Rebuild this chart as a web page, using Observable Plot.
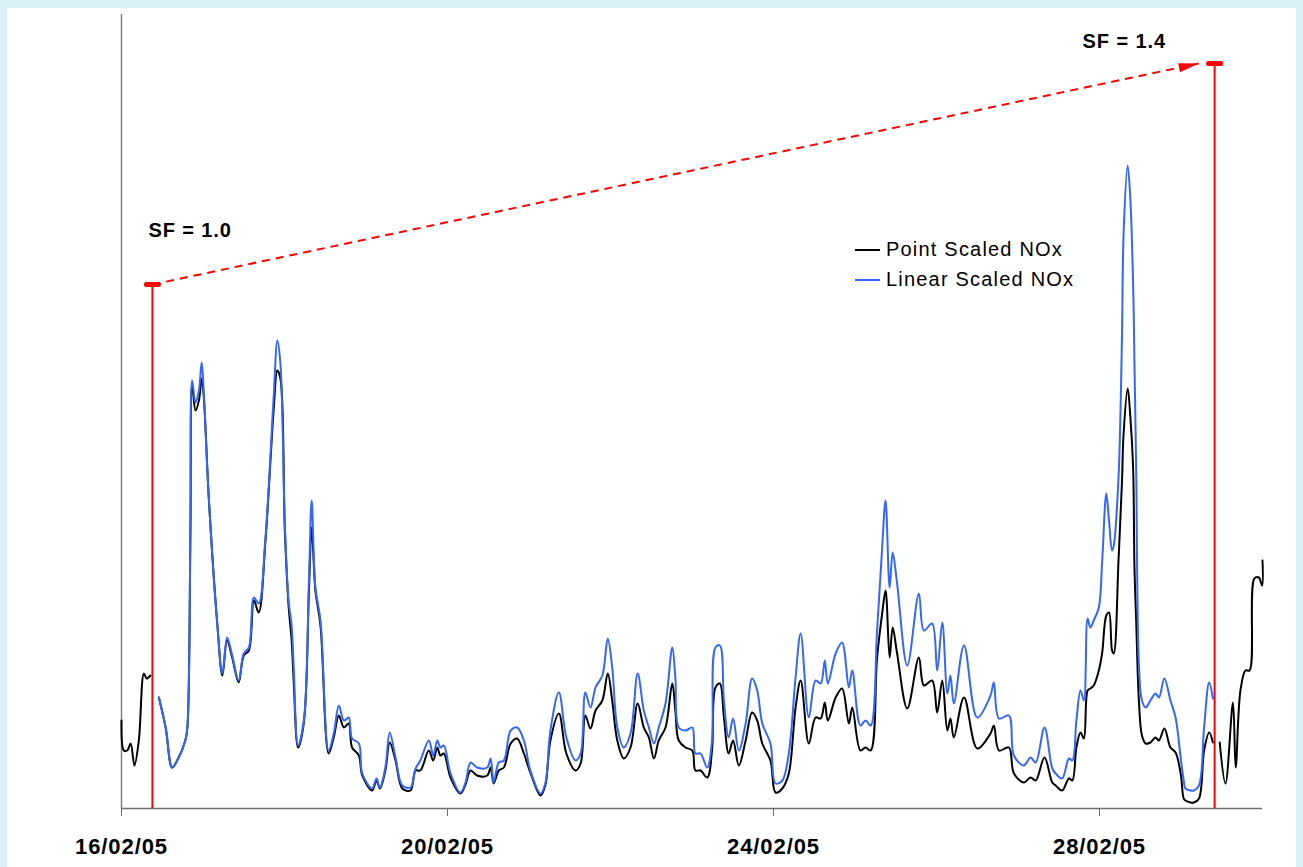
<!DOCTYPE html>
<html>
<head>
<meta charset="utf-8">
<script src="https://cdn.jsdelivr.net/npm/d3@7"></script>
<script src="https://cdn.jsdelivr.net/npm/@observablehq/plot@0.6"></script>
<style>
  html, body { margin: 0; padding: 0; }
  body { width: 1303px; height: 867px; background: #d8eff5; position: relative; overflow: hidden; font-family: "Liberation Sans", Arial, sans-serif; }
  #chart { position: absolute; left: 7px; top: 8px; width: 1289px; height: 859px; background: #ffffff; }
  #chart svg g[aria-label="x-axis tick"] path { stroke: #6e6e6e; }
  .legend { position: absolute; left: 855px; top: 234px; font-size: 20px; letter-spacing: 1.2px; color: #000; }
  .legend .row { height: 30px; line-height: 30px; white-space: nowrap; }
  .legend .sw { display: inline-block; width: 25px; height: 2px; vertical-align: middle; margin-right: 6px; position: relative; top: -1px; }
</style>
</head>
<body>
<div id="chart"></div>
<div class="legend" id="legend"></div>
<script>
// ---- data (hours after 16/02/05 00:00, NOx in arbitrary units) ----
const seriesNames = ["Point Scaled NOx", "Linear Scaled NOx"];
const seriesColors = ["#000000", "#3366ff"];
const hours = [
  0.0, 0.7, 1.7, 2.7, 3.8, 5.1, 6.6, 7.4, 8.5, 9.8,
  11.0, 13.0, 14.9, 16.4, 18.8, 19.4, 20.3, 20.8, 21.8, 22.8, 23.6, 24.2, 25.7, 28.2, 29.7,
  31.1, 32.6, 34.5, 36.0, 37.5, 39.0, 40.4, 42.4, 44.8, 45.9, 46.8, 48.1, 49.2, 50.1, 50.7,
  52.0, 53.7, 55.2, 56.0, 57.1, 58.6, 61.0, 62.5, 64.0, 65.5, 66.9, 67.9, 69.9, 70.9, 73.8,
  75.1, 76.1, 77.7, 79.0, 80.7, 82.7, 85.1, 86.6, 88.0, 90.5, 91.8, 93.0, 93.9, 94.9, 96.9,
  99.8, 101.3, 102.8, 104.7, 107.7, 108.7, 109.6, 111.1, 112.6, 114.6, 116.5, 118.5, 120.4, 123.4, 124.8,
  126.3, 128.8, 131.0, 133.7, 135.2, 136.6, 138.1, 139.6, 141.6, 143.2, 144.5, 146.0, 147.9, 149.9, 152.0,
  153.8, 155.3, 156.8, 158.2, 160.2, 162.2, 163.1, 164.1, 166.1, 168.1, 169.0, 170.5, 172.5, 173.9, 174.9,
  176.2, 177.4, 178.8, 180.1, 181.8, 183.8, 185.7, 187.2, 188.7, 191.1, 192.6, 194.6, 196.5, 198.5, 200.0,
  202.4, 204.4, 205.9, 207.1, 208.0, 210.3, 212.2, 214.2, 215.2, 217.6, 219.1, 220.6, 222.5, 224.0, 225.0,
  226.2, 227.1, 228.4, 231.4, 234.8, 236.3, 238.7, 240.2, 241.7, 243.2, 244.1, 245.1, 248.1, 252.0, 255.9,
  256.9, 258.4, 261.3, 262.8, 265.7, 267.7, 269.2, 271.8, 274.1, 275.1, 277.0, 279.0, 280.0, 281.2, 282.4,
  283.4, 284.5, 285.3, 286.3, 287.8, 288.8, 290.0, 290.8, 291.7, 292.2, 293.6, 294.6, 295.1, 296.3, 297.1,
  297.9, 298.3, 298.8, 299.6, 300.5, 301.6, 303.0, 304.5, 305.5, 307.1, 308.9, 310.4, 311.9, 312.8, 313.3,
  314.8, 315.8, 317.3, 318.8, 320.3, 321.4, 322.0,
  323.4, 325.1, 327.3, 328.1, 329.5, 331.0, 332.2, 333.6, 334.9, 335.9, 336.0
];
const pointScaled = [
  88, 58, 58, 65, 43, 68, 135, 130, 133, null,
  111, 81, 41, 48, 68, 81, 278, 423, 398, 408, 430, 413, 311, 185, 133,
  168, 151, 126, 153, 158, 208, 196, 268, 398, 438, 430, 278, 203, 168, 128,
  61, 86, 218, 281, 218, 183, 55, 71, 93, 81, 85, 61, 53, 33, 18,
  28, 20, 38, 66, 48, 20, 18, 38, 38, 58, 48, 61, 53, 55, 31,
  15, 24, 38, 33, 33, 41, 25, 38, 41, 65, 70, 55, 36, 13, 23,
  68, 95, 55, 38, 45, 93, 80, 98, 108, 135, 108, 68, 50, 61, 105,
  81, 71, 50, 68, 81, 125, 98, 68, 61, 58, 38, 38, 31, 58, 121,
  125, 91, 55, 68, 43, 68, 96, 88, 65, 48, 16, 20, 35, 101, 128,
  65, 91, 90, 106, 88, 111, 120, 85, 101, 58, 61, 58, 151, 195, 218,
  151, 181, 155, 100, 151, 123, 128, 96, 128, 78, 90, 71, 111, 60, 75,
  83, 58, 61, 35, 26, 31, 28, 51, 26, 23, 18, 30, 28, 61, 76,
  70, 118, 120, 123, 138, 156, 193, 196, 158, 155, 248, 325, 375, 420, 391,
  341, 241, 188, 108, 73, 65, 66, 71, 68, 80, 61, 56, 35, 10, 8,
  6, 6, 10, 58, 76, 66, null,
  66, 25, 106, 41, 118, 138, 138, 230, 231, 223, 248
];
const linearScaled = [
  null, null, null, null, null, null, null, null, null, null,
  111, 81, 41, 48, 68, 81, 278, 428, 406, 418, 446, 418, 311, 185, 135,
  171, 153, 128, 155, 161, 211, 205, 271, 411, 468, 445, 285, 208, 183, 143,
  63, 88, 228, 308, 221, 188, 58, 75, 103, 88, 91, 70, 65, 35, 20,
  30, 21, 41, 76, 51, 23, 21, 40, 48, 68, 53, 68, 61, 63, 35,
  16, 26, 46, 41, 41, 50, 26, 46, 48, 78, 81, 68, 38, 15, 25,
  78, 116, 71, 48, 55, 116, 101, 121, 133, 170, 141, 81, 61, 75, 135,
  98, 81, 65, 81, 105, 161, 131, 81, 78, 81, 55, 55, 41, 68, 161,
  163, 108, 71, 90, 58, 85, 130, 118, 85, 65, 25, 28, 55, 131, 175,
  91, 128, 125, 148, 125, 155, 166, 121, 138, 83, 88, 83, 178, 261, 308,
  221, 256, 225, 143, 215, 178, 185, 138, 186, 115, 133, 105, 163, 91, 113,
  126, 90, 93, 53, 43, 51, 46, 81, 40, 35, 30, 50, 48, 88, 118,
  108, 190, 181, 188, 201, 248, 315, 288, 258, 263, 331, 468, 575, 643, 608,
  525, 445, 341, 145, 108, 101, 108, 115, 111, 130, 108, 91, 51, 28, 20,
  18, 18, 23, 81, 126, 110, null,
  null, null, null, null, null, null, null, null, null, null, null
];

// scale-factor annotation
const sfHours = [9.1, 321.9];
const sfLevels = [524, 745];
const sfLabels = ["SF = 1.0", "SF = 1.4"];
const arrowTipHour = 317.2;

// x-axis ticks
const tickDates = ["2005-02-16", "2005-02-20", "2005-02-24", "2005-02-28"];
const tickLabels = ["16/02/05", "20/02/05", "24/02/05", "28/02/05"];

// ---- build ----
const t0 = Date.UTC(2005, 1, 16);
const toDate = h => new Date(t0 + h * 3600e3);
const xDomain = [toDate(0), toDate(336)];
const yDomain = [0, 794];

const W = 1289, H = 859;
const mL = 114, mR = 34, mT = 6, mB = 59;

const table = hours.map((h, i) => ({t: toDate(h), point: pointScaled[i], linear: linearScaled[i]}));
const sfTable = sfHours.map((h, i) => ({t: toDate(h), v: sfLevels[i], label: sfLabels[i]}));
const tickTable = tickDates.map((d, i) => ({t: new Date(d + "T00:00:00Z"), label: tickLabels[i]}));

// geometry for arrow head orientation
const pxPerHour = (W - mL - mR) / 336;
const pxPerUnit = (H - mT - mB) / (yDomain[1] - yDomain[0]);
const ang = Math.atan2(-(sfLevels[1] - sfLevels[0]) * pxPerUnit, (arrowTipHour - sfHours[0]) * pxPerHour);

const arrowHead = {
  draw(ctx) {
    const c = Math.cos(ang), s = Math.sin(ang);
    const pts = [[0, 0], [-20, -4.6], [-20, 4.6]].map(([x, y]) => [x * c - y * s, x * s + y * c]);
    ctx.moveTo(pts[0][0], pts[0][1]);
    ctx.lineTo(pts[1][0], pts[1][1]);
    ctx.lineTo(pts[2][0], pts[2][1]);
    ctx.closePath();
  }
};
const capBar = {
  draw(ctx) {
    const hw = 6, r = 2.5;
    ctx.moveTo(-hw, -r);
    ctx.lineTo(hw, -r);
    ctx.arc(hw, 0, r, -Math.PI / 2, Math.PI / 2);
    ctx.lineTo(-hw, r);
    ctx.arc(-hw, 0, r, Math.PI / 2, 3 * Math.PI / 2);
    ctx.closePath();
  }
};

const font = "'Liberation Sans', Arial, sans-serif";

const chart = Plot.plot({
  width: W,
  height: H,
  marginLeft: mL,
  marginRight: mR,
  marginTop: mT,
  marginBottom: mB,
  style: {background: "white", fontFamily: font, overflow: "visible"},
  x: {type: "utc", domain: xDomain, axis: null},
  y: {domain: yDomain, axis: null},
  marks: [
    Plot.ruleX([xDomain[0]], {stroke: "#808080", strokeWidth: 1.5}),
    Plot.ruleY([0], {stroke: "#6e6e6e", strokeWidth: 1.5}),
    Plot.axisX({
      ticks: tickTable.map(d => d.t),
      tickFormat: (d, i) => tickLabels[i],
      tickSize: 8,
      tickPadding: 22,
      fontSize: 22,
      fontWeight: "bold",
      fontFamily: font,
      fill: "black"
    }),
    Plot.line(table, {x: "t", y: "point", stroke: seriesColors[0], strokeWidth: 2, curve: "catmull-rom"}),
    Plot.line(table, {x: "t", y: "linear", stroke: seriesColors[1], strokeWidth: 2, curve: "catmull-rom"}),
    Plot.ruleX(sfTable, {x: "t", y1: 0, y2: "v", stroke: "#ff0000", strokeWidth: 2}),
    Plot.link([{x1: sfTable[0].t, y1: sfLevels[0], x2: toDate(arrowTipHour), y2: sfLevels[1]}],
      {x1: "x1", y1: "y1", x2: "x2", y2: "y2", stroke: "#ff0000", strokeWidth: 2, strokeDasharray: "8,6"}),
    Plot.dot([{t: toDate(arrowTipHour), v: sfLevels[1]}], {x: "t", y: "v", symbol: arrowHead, fill: "#ff0000", stroke: "none"}),
    Plot.dot(sfTable, {x: "t", y: "v", symbol: capBar, fill: "#ff0000", stroke: "none"}),
    Plot.text([sfTable[0]], {x: "t", y: "v", text: "label", textAnchor: "start", lineAnchor: "bottom",
      dx: -4, dy: -48, fontSize: 20, fontWeight: "bold", fontFamily: font, fill: "black"}),
    Plot.text([sfTable[1]], {x: "t", y: "v", text: "label", textAnchor: "start", lineAnchor: "bottom",
      dx: -132, dy: -16, fontSize: 20, fontWeight: "bold", fontFamily: font, fill: "black"})
  ]
});
document.getElementById("chart").appendChild(chart);
chart.querySelectorAll('g[aria-label="x-axis tick label"] text').forEach(n => n.setAttribute("letter-spacing", "0.9"));
chart.querySelectorAll('text').forEach(n => { if (/SF =/.test(n.textContent)) n.setAttribute("letter-spacing", "0.9"); });

// legend
const legend = document.getElementById("legend");
seriesNames.forEach((name, i) => {
  const row = document.createElement("div");
  row.className = "row";
  const sw = document.createElement("span");
  sw.className = "sw";
  sw.style.background = seriesColors[i];
  row.appendChild(sw);
  row.appendChild(document.createTextNode(name));
  legend.appendChild(row);
});
</script>
</body>
</html>
